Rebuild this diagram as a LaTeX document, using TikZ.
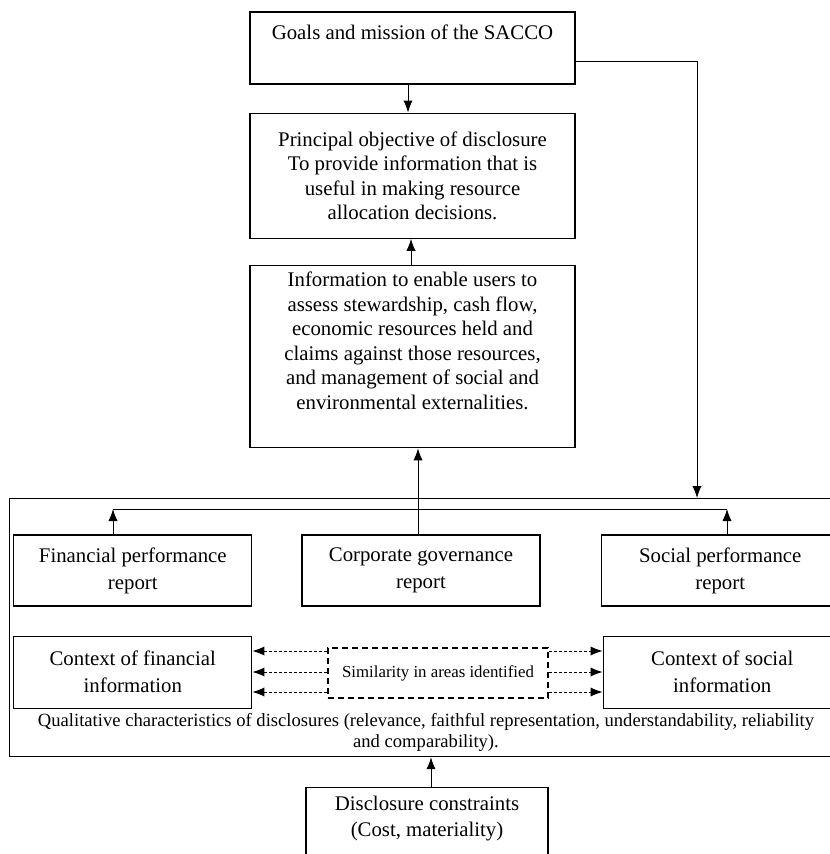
\documentclass[tikz,border=0pt]{standalone}
\usepackage{fontspec}
\setmainfont{Liberation Serif}
\usetikzlibrary{arrows.meta,positioning}

\begin{document}
\begin{tikzpicture}[x=0.5pt, y=-0.5pt, >={Latex[length=6pt,width=4.6pt]}, node distance=14pt]
    \tikzstyle{box} = [rectangle, draw, line width=0.6pt, align=center, minimum width=162.5pt, font=\fontsize{10.4}{12.25}\selectfont]
    \tikzstyle{report} = [rectangle, draw, line width=0.6pt, align=center, minimum width=119pt, minimum height=35.5pt, font=\fontsize{10.4}{13.5}\selectfont]
    \tikzstyle{link} = [->, line width=0.5pt]
    \tikzstyle{dotlink} = [->, line width=0.5pt, dash pattern=on 1.5pt off 1pt]

    \useasboundingbox (0,0) rectangle (829,854);

    % Outer frame
    \node [draw, line width=0.6pt, anchor=north west, minimum width=425pt, minimum height=129pt, inner sep=0pt] (outer) at (9,498) {};

    % Objective chain
    \node [box, minimum height=36pt] (goals) at (412.5,48) {Goals and mission of the SACCO\\ \strut};
    \node [box, below=14pt of goals, minimum height=62.5pt] (principal) {Principal objective of disclosure\\ To provide information that is\\ useful in making resource\\ allocation decisions.};
    \node [box, below=13pt of principal, minimum height=91pt] (info) {Information to enable users to\\ assess stewardship, cash flow,\\ economic resources held and\\ claims against those resources,\\ and management of social and\\ environmental externalities.\\ \strut};

    % Reports
    \node [report] (corp) at (421,570.5) {Corporate governance\\ report};
    \node [report, left=24.5pt of corp] (fin) {Financial performance\\ report};
    \node [report, right=30pt of corp] (soc) {Social performance\\ report};

    % Context
    \node [report, minimum height=36pt, below=14.5pt of fin] (ctxf) {Context of financial\\ information};
    \node [report, minimum height=36pt, below=14.5pt of soc, xshift=1pt] (ctxs) {Context of social\\ information};
    \node [draw, line width=0.8pt, dash pattern=on 3pt off 2pt, minimum width=110pt, minimum height=25pt, font=\fontsize{8.4}{10}\selectfont] (sim) at (438,673) {Similarity in areas identified};

    \node [align=center, font=\fontsize{9.3}{10.5}\selectfont] (qual) at (426,732.5) {Qualitative characteristics of disclosures (relevance, faithful representation, understandability, reliability\\ and comparability).};

    % Constraints
    \node [box, anchor=north, minimum width=121pt, minimum height=46pt, font=\fontsize{10.4}{13}\selectfont] (disc) at (427,787) {Disclosure constraints\\ (Cost, materiality)\\ \strut};

    % Connections
    \draw[link] ([xshift=-2.25pt]goals.south) -- ([xshift=-2.25pt]principal.north);
    \draw[link] ([xshift=-0.75pt]info.north) -- ([xshift=-0.75pt]principal.south);
    \coordinate (drop) at (697,498);
    \draw[link] ([yshift=-7pt]goals.east) -| (drop);

    \coordinate (busL) at (113,509);
    \coordinate (busR) at (727,509);
    \draw[line width=0.5pt] (busL) -- (busR);
    \draw[link] (busL |- fin.north) -- (busL);
    \draw[link] (busR |- soc.north) -- (busR);
    \coordinate (cg) at ([xshift=-1.5pt]corp.north);
    \draw[link] (cg) -- (cg |- info.south);

    \foreach \yy in {651,672,692} {
        \draw[dotlink] (sim.west |- 0,\yy) -- (ctxf.east |- 0,\yy);
        \draw[dotlink] (sim.east |- 0,\yy) -- (ctxs.west |- 0,\yy);
    }

    \coordinate (dd) at ([xshift=2pt]disc.north);
    \draw[link] (dd) -- (dd |- outer.south);
\end{tikzpicture}
\end{document}
